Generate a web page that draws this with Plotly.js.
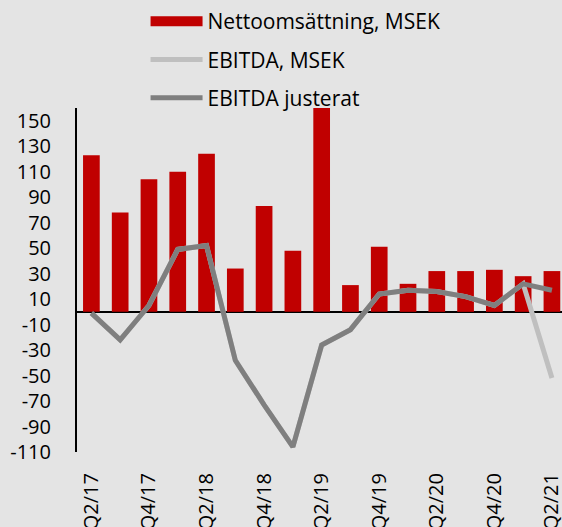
<!DOCTYPE html>
<html>
<head>
<meta charset="utf-8">
<script src="https://cdn.plot.ly/plotly-3.0.1.min.js"></script>
<style>html,body{margin:0;padding:0;background:#e4e4e4;}#chart{width:562px;height:527px;}</style>
</head>
<body>
<div id="chart"></div>
<script>
const quarters = ["Q2/17","Q3/17","Q4/17","Q1/18","Q2/18","Q3/18","Q4/18","Q1/19","Q2/19","Q3/19","Q4/19","Q1/20","Q2/20","Q3/20","Q4/20","Q1/21","Q2/21"];
const tickLabels = ["Q2/17","Q4/17","Q2/18","Q4/18","Q2/19","Q4/19","Q2/20","Q4/20","Q2/21"];
const yTicks = [-110, -90, -70, -50, -30, -10, 10, 30, 50, 70, 90, 110, 130, 150];
const yTickText = ["-110","-90","-70","-50","-30","-10","10","30","50","70","90","110","130","150"];
const nettoomsattning = [123, 78, 104, 110, 124, 34, 83, 48, 161, 21, 51, 22, 32, 32, 33, 28, 32];
const ebitda = [-1, -22, 5, 49, 52, -38, -73, -106, -26, -14, 14, 17, 16, 12, 5, 22, -52];
const ebitdaJusterat = [-1, -22, 5, 49, 52, -38, -73, -106, -26, -14, 14, 17, 16, 12, 5, 22, 17];

const font = {family: "Open Sans, sans-serif", size: 20, color: "#000"};
const legendFont = {family: "Open Sans, sans-serif", size: 21, color: "#000"};

const traces = [
  {type: "bar", x: quarters, y: nettoomsattning, marker: {color: "#c00000"}, showlegend: false, hoverinfo: "skip"},
  {type: "scatter", mode: "lines", x: [null], y: [null], name: "Nettoomsättning, MSEK", legendgroup: "a",
   line: {color: "#c00000", width: 13}},
  {type: "scatter", mode: "lines", x: quarters, y: ebitda, name: "EBITDA, MSEK", legendgroup: "b",
   line: {color: "#bfbfbf", width: 5}},
  {type: "scatter", mode: "lines", x: quarters, y: ebitdaJusterat, name: "EBITDA justerat", legendgroup: "c",
   line: {color: "#7f7f7f", width: 5}}
];

const layout = {
  width: 562, height: 527,
  paper_bgcolor: "#e4e4e4", plot_bgcolor: "#e4e4e4",
  font: font,
  margin: {l: 77, r: 0, t: 108, b: 75, pad: 0, autoexpand: false},
  bargap: 0.42,
  showlegend: true,
  legend: {
    xref: "container", yref: "container", x: 0.259, y: 0.998, xanchor: "left", yanchor: "top",
    bgcolor: "rgba(0,0,0,0)", font: legendFont, tracegroupgap: 8, itemwidth: 52, traceorder: "grouped"
  },
  xaxis: {
    type: "category", categoryarray: quarters, range: [-0.5, 16.35],
    tickmode: "array", tickvals: tickLabels, ticktext: tickLabels,
    tickangle: -90, showgrid: false, showline: false, zeroline: false, ticks: "",
    ticklabelstandoff: 16, tickfont: font, automargin: false
  },
  yaxis: {
    range: [-110, 160], tickmode: "array", tickvals: yTicks, ticktext: yTickText, showgrid: false,
    showline: true, linecolor: "#000", linewidth: 2,
    zeroline: true, zerolinecolor: "#000", zerolinewidth: 2,
    ticks: "", ticklabelstandoff: 20, tickfont: font, automargin: false
  }
};

Plotly.newPlot("chart", traces, layout, {staticPlot: true});
</script>
</body>
</html>
